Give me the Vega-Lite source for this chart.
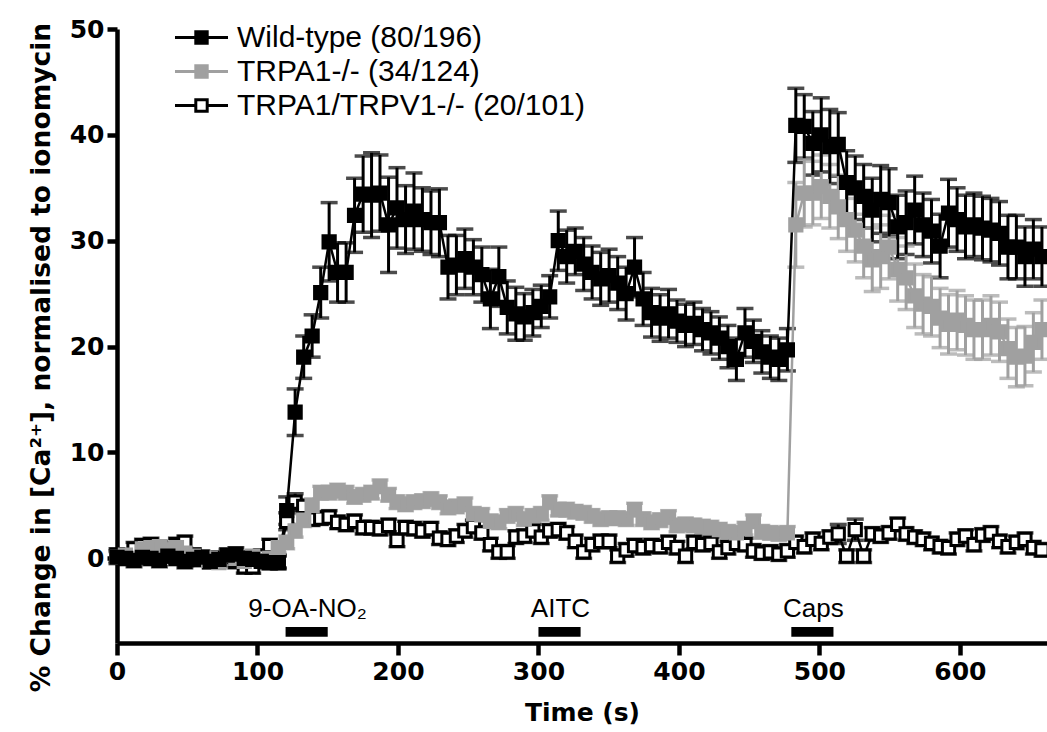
{
"$schema":"https://vega.github.io/schema/vega-lite/v6.json",
"width":930,"height":614,
"autosize":{"type":"none"},
"padding":{"left":117,"top":29,"right":0,"bottom":89},
"background":"white",
"config":{
"view":{"stroke":null},
"font":"Liberation Sans",
"axis":{"grid":false,"labelFlush":false,"domainColor":"black","domainWidth":4.5,"tickColor":"black","tickWidth":4.5,"labelColor":"black","titleColor":"black","labelFont":"DejaVu Sans","labelFontWeight":"bold","labelFontSize":25,"titleFont":"DejaVu Sans","titleFontWeight":"bold","titleFontSize":25},
"axisX":{"tickSize":12,"labelPadding":4,"titlePadding":16},
"axisY":{"tickSize":10,"labelPadding":3,"titlePadding":14,"titleFontSize":26.5,"titleY":328}
},
"layer":[
{
"data":{"values":[
{"s":"c","t":0,"v":0.3,"e":0.6},{"s":"c","t":6,"v":0.1,"e":0.6},{"s":"c","t":12.1,"v":0.9,"e":0.6},{"s":"c","t":18.1,"v":1.2,"e":0.6},{"s":"c","t":24.2,"v":1.3,"e":0.6},{"s":"c","t":30.2,"v":1.0,"e":0.6},{"s":"c","t":36.2,"v":0.6,"e":0.6},{"s":"c","t":42.3,"v":1.3,"e":0.6},{"s":"c","t":48.3,"v":1.5,"e":0.6},{"s":"c","t":54.4,"v":0.3,"e":0.6},
{"s":"c","t":60.4,"v":-0.1,"e":0.6},{"s":"c","t":66.4,"v":-0.3,"e":0.6},{"s":"c","t":72.5,"v":0.0,"e":0.6},{"s":"c","t":78.5,"v":0.2,"e":0.6},{"s":"c","t":84.6,"v":-0.3,"e":0.6},{"s":"c","t":90.6,"v":-0.8,"e":0.6},{"s":"c","t":96.6,"v":-0.8,"e":0.6},{"s":"c","t":102.7,"v":0.2,"e":0.6},{"s":"c","t":108.7,"v":1.2,"e":0.6},{"s":"c","t":114.8,"v":-0.3,"e":0.6},
{"s":"c","t":120.8,"v":3.5,"e":0.8},{"s":"c","t":126.8,"v":5.3,"e":0.8},{"s":"c","t":132.9,"v":4.9,"e":0.6},{"s":"c","t":138.9,"v":3.7,"e":0.6},{"s":"c","t":145,"v":3.8,"e":0.6},{"s":"c","t":151,"v":3.9,"e":0.6},{"s":"c","t":157,"v":3.4,"e":0.6},{"s":"c","t":163.1,"v":3.2,"e":0.6},{"s":"c","t":169.1,"v":3.5,"e":0.6},{"s":"c","t":175.2,"v":2.9,"e":0.6},
{"s":"c","t":181.2,"v":2.9,"e":0.6},{"s":"c","t":187.2,"v":2.8,"e":0.6},{"s":"c","t":193.3,"v":3.1,"e":0.6},{"s":"c","t":199.3,"v":1.7,"e":0.6},{"s":"c","t":205.4,"v":2.9,"e":0.6},{"s":"c","t":211.4,"v":2.8,"e":0.6},{"s":"c","t":217.4,"v":2.6,"e":0.6},{"s":"c","t":223.5,"v":2.8,"e":0.6},{"s":"c","t":229.5,"v":1.9,"e":0.6},{"s":"c","t":235.6,"v":1.8,"e":0.6},
{"s":"c","t":241.6,"v":2.1,"e":0.6},{"s":"c","t":247.6,"v":2.6,"e":0.6},{"s":"c","t":253.7,"v":3.0,"e":0.6},{"s":"c","t":259.7,"v":2.4,"e":0.6},{"s":"c","t":265.8,"v":1.3,"e":0.6},{"s":"c","t":271.8,"v":0.6,"e":0.6},{"s":"c","t":277.8,"v":0.6,"e":0.6},{"s":"c","t":283.9,"v":2.0,"e":0.6},{"s":"c","t":289.9,"v":2.1,"e":0.6},{"s":"c","t":296,"v":2.6,"e":0.6},
{"s":"c","t":302,"v":2.0,"e":0.6},{"s":"c","t":308,"v":2.6,"e":0.6},{"s":"c","t":314.1,"v":2.7,"e":0.6},{"s":"c","t":320.1,"v":2.4,"e":0.6},{"s":"c","t":326.2,"v":1.6,"e":0.6},{"s":"c","t":332.2,"v":0.6,"e":0.6},{"s":"c","t":338.2,"v":1.3,"e":0.6},{"s":"c","t":344.3,"v":1.6,"e":0.6},{"s":"c","t":350.3,"v":1.6,"e":0.6},{"s":"c","t":356.4,"v":0.2,"e":0.6},
{"s":"c","t":362.4,"v":0.8,"e":0.6},{"s":"c","t":368.4,"v":1.2,"e":0.6},{"s":"c","t":374.5,"v":1.0,"e":0.6},{"s":"c","t":380.5,"v":1.2,"e":0.6},{"s":"c","t":386.6,"v":1.1,"e":0.6},{"s":"c","t":392.6,"v":1.5,"e":0.6},{"s":"c","t":398.6,"v":1.0,"e":0.6},{"s":"c","t":404.7,"v":0.2,"e":0.6},{"s":"c","t":410.7,"v":1.5,"e":0.6},{"s":"c","t":416.8,"v":1.3,"e":0.6},
{"s":"c","t":422.8,"v":1.4,"e":0.6},{"s":"c","t":428.8,"v":0.6,"e":0.6},{"s":"c","t":434.9,"v":1.0,"e":0.6},{"s":"c","t":440.9,"v":1.4,"e":0.6},{"s":"c","t":447,"v":1.3,"e":0.6},{"s":"c","t":453,"v":0.7,"e":0.6},{"s":"c","t":459,"v":0.5,"e":0.6},{"s":"c","t":465.1,"v":0.6,"e":0.6},{"s":"c","t":471.1,"v":0.4,"e":0.6},{"s":"c","t":477.2,"v":0.7,"e":0.6},
{"s":"c","t":483.2,"v":1.5,"e":0.6},{"s":"c","t":489.2,"v":1.1,"e":0.6},{"s":"c","t":495.3,"v":1.8,"e":0.6},{"s":"c","t":501.3,"v":1.4,"e":0.6},{"s":"c","t":507.4,"v":2.0,"e":0.6},{"s":"c","t":513.4,"v":2.3,"e":0.9},{"s":"c","t":519.4,"v":0.2,"e":0.6},{"s":"c","t":525.5,"v":2.7,"e":1.0},{"s":"c","t":531.5,"v":0.2,"e":0.6},{"s":"c","t":537.6,"v":2.3,"e":0.6},
{"s":"c","t":543.6,"v":2.1,"e":0.6},{"s":"c","t":549.6,"v":2.4,"e":0.6},{"s":"c","t":555.7,"v":3.2,"e":0.6},{"s":"c","t":561.7,"v":2.3,"e":0.6},{"s":"c","t":567.8,"v":2.0,"e":0.6},{"s":"c","t":573.8,"v":1.8,"e":0.6},{"s":"c","t":579.8,"v":1.4,"e":0.6},{"s":"c","t":585.9,"v":1.1,"e":0.6},{"s":"c","t":591.9,"v":1.0,"e":0.6},{"s":"c","t":598,"v":1.8,"e":0.6},
{"s":"c","t":604,"v":2.1,"e":0.6},{"s":"c","t":610,"v":1.3,"e":0.6},{"s":"c","t":616.1,"v":2.2,"e":0.6},{"s":"c","t":622.1,"v":2.4,"e":0.6},{"s":"c","t":628.2,"v":1.6,"e":0.6},{"s":"c","t":634.2,"v":1.1,"e":0.6},{"s":"c","t":640.2,"v":1.5,"e":0.6},{"s":"c","t":646.3,"v":1.8,"e":0.6},{"s":"c","t":652.3,"v":1.0,"e":0.6},{"s":"c","t":658.4,"v":0.8,"e":0.6},

{"s":"b","t":0,"v":0.1,"e":0.5},{"s":"b","t":6,"v":0.3,"e":0.5},{"s":"b","t":12.1,"v":0.0,"e":0.5},{"s":"b","t":18.1,"v":0.9,"e":0.5},{"s":"b","t":24.2,"v":1.0,"e":0.5},{"s":"b","t":30.2,"v":1.1,"e":0.5},{"s":"b","t":36.2,"v":0.8,"e":0.5},{"s":"b","t":42.3,"v":1.0,"e":0.5},{"s":"b","t":48.3,"v":0.5,"e":0.5},{"s":"b","t":54.4,"v":0.2,"e":0.5},
{"s":"b","t":60.4,"v":-0.2,"e":0.5},{"s":"b","t":66.4,"v":0.0,"e":0.5},{"s":"b","t":72.5,"v":-0.4,"e":0.5},{"s":"b","t":78.5,"v":0.3,"e":0.5},{"s":"b","t":84.6,"v":0.0,"e":0.5},{"s":"b","t":90.6,"v":-0.3,"e":0.5},{"s":"b","t":96.6,"v":0.2,"e":0.5},{"s":"b","t":102.7,"v":-0.2,"e":0.5},{"s":"b","t":108.7,"v":0.0,"e":0.5},{"s":"b","t":114.8,"v":1.0,"e":0.5},
{"s":"b","t":120.8,"v":1.5,"e":0.6},{"s":"b","t":126.8,"v":2.6,"e":0.6},{"s":"b","t":132.9,"v":3.6,"e":0.6},{"s":"b","t":138.9,"v":5.0,"e":0.6},{"s":"b","t":145,"v":6.2,"e":0.6},{"s":"b","t":151,"v":6.2,"e":0.6},{"s":"b","t":157,"v":6.4,"e":0.6},{"s":"b","t":163.1,"v":6.2,"e":0.6},{"s":"b","t":169.1,"v":5.8,"e":0.6},{"s":"b","t":175.2,"v":6.0,"e":0.6},
{"s":"b","t":181.2,"v":6.2,"e":0.6},{"s":"b","t":187.2,"v":6.8,"e":0.6},{"s":"b","t":193.3,"v":6.0,"e":0.6},{"s":"b","t":199.3,"v":5.3,"e":0.6},{"s":"b","t":205.4,"v":5.1,"e":0.6},{"s":"b","t":211.4,"v":5.3,"e":0.6},{"s":"b","t":217.4,"v":5.4,"e":0.6},{"s":"b","t":223.5,"v":5.6,"e":0.6},{"s":"b","t":229.5,"v":5.3,"e":0.6},{"s":"b","t":235.6,"v":4.8,"e":0.6},
{"s":"b","t":241.6,"v":4.9,"e":0.6},{"s":"b","t":247.6,"v":5.1,"e":0.6},{"s":"b","t":253.7,"v":4.2,"e":0.6},{"s":"b","t":259.7,"v":4.1,"e":0.6},{"s":"b","t":265.8,"v":3.5,"e":0.6},{"s":"b","t":271.8,"v":3.4,"e":0.6},{"s":"b","t":277.8,"v":4.0,"e":0.6},{"s":"b","t":283.9,"v":4.2,"e":0.6},{"s":"b","t":289.9,"v":3.7,"e":0.6},{"s":"b","t":296,"v":4.0,"e":0.6},
{"s":"b","t":302,"v":4.2,"e":0.6},{"s":"b","t":308,"v":5.3,"e":0.6},{"s":"b","t":314.1,"v":4.6,"e":0.6},{"s":"b","t":320.1,"v":4.6,"e":0.6},{"s":"b","t":326.2,"v":4.4,"e":0.6},{"s":"b","t":332.2,"v":4.3,"e":0.6},{"s":"b","t":338.2,"v":4.0,"e":0.6},{"s":"b","t":344.3,"v":3.7,"e":0.6},{"s":"b","t":350.3,"v":3.8,"e":0.6},{"s":"b","t":356.4,"v":3.8,"e":0.6},
{"s":"b","t":362.4,"v":3.7,"e":0.6},{"s":"b","t":368.4,"v":4.6,"e":0.6},{"s":"b","t":374.5,"v":3.7,"e":0.6},{"s":"b","t":380.5,"v":3.4,"e":0.6},{"s":"b","t":386.6,"v":3.6,"e":0.6},{"s":"b","t":392.6,"v":3.9,"e":0.6},{"s":"b","t":398.6,"v":3.1,"e":0.6},{"s":"b","t":404.7,"v":3.2,"e":0.6},{"s":"b","t":410.7,"v":3.1,"e":0.6},{"s":"b","t":416.8,"v":3.0,"e":0.6},
{"s":"b","t":422.8,"v":2.9,"e":0.6},{"s":"b","t":428.8,"v":2.7,"e":0.6},{"s":"b","t":434.9,"v":2.5,"e":0.6},{"s":"b","t":440.9,"v":2.4,"e":0.6},{"s":"b","t":447,"v":2.8,"e":0.6},{"s":"b","t":453,"v":3.5,"e":0.6},{"s":"b","t":459,"v":2.5,"e":0.6},{"s":"b","t":465.1,"v":2.4,"e":0.6},{"s":"b","t":471.1,"v":2.3,"e":0.6},{"s":"b","t":477.2,"v":2.4,"e":0.6},
{"s":"b","t":483.2,"v":31.5,"e":4.0},{"s":"b","t":489.2,"v":34.5,"e":3.2},{"s":"b","t":495.3,"v":34.5,"e":3.0},{"s":"b","t":501.3,"v":35.1,"e":3.0},{"s":"b","t":507.4,"v":34.2,"e":3.0},{"s":"b","t":513.4,"v":33.2,"e":3.0},{"s":"b","t":519.4,"v":32.0,"e":3.0},{"s":"b","t":525.5,"v":31.0,"e":3.0},{"s":"b","t":531.5,"v":29.5,"e":3.0},{"s":"b","t":537.6,"v":28.2,"e":3.0},
{"s":"b","t":543.6,"v":28.5,"e":3.0},{"s":"b","t":549.6,"v":29.4,"e":3.0},{"s":"b","t":555.7,"v":27.3,"e":3.0},{"s":"b","t":561.7,"v":26.5,"e":3.0},{"s":"b","t":567.8,"v":24.8,"e":3.0},{"s":"b","t":573.8,"v":24.0,"e":2.8},{"s":"b","t":579.8,"v":23.8,"e":2.8},{"s":"b","t":585.9,"v":22.7,"e":2.8},{"s":"b","t":591.9,"v":22.1,"e":2.8},{"s":"b","t":598,"v":22.5,"e":2.8},
{"s":"b","t":604,"v":22.0,"e":2.8},{"s":"b","t":610,"v":21.6,"e":2.8},{"s":"b","t":616.1,"v":21.6,"e":2.8},{"s":"b","t":622.1,"v":22.0,"e":2.8},{"s":"b","t":628.2,"v":21.4,"e":2.8},{"s":"b","t":634.2,"v":19.8,"e":2.8},{"s":"b","t":640.2,"v":19.0,"e":2.8},{"s":"b","t":646.3,"v":19.1,"e":2.8},{"s":"b","t":652.3,"v":20.4,"e":2.8},{"s":"b","t":658.4,"v":21.6,"e":2.8},

{"s":"a","t":0,"v":0.1,"e":0.6},{"s":"a","t":6,"v":0.0,"e":0.6},{"s":"a","t":12.1,"v":-0.2,"e":0.6},{"s":"a","t":18.1,"v":0.1,"e":0.6},{"s":"a","t":24.2,"v":0.0,"e":0.6},{"s":"a","t":30.2,"v":-0.2,"e":0.6},{"s":"a","t":36.2,"v":0.2,"e":0.6},{"s":"a","t":42.3,"v":0.0,"e":0.6},{"s":"a","t":48.3,"v":-0.3,"e":0.6},{"s":"a","t":54.4,"v":-0.1,"e":0.6},
{"s":"a","t":60.4,"v":0.1,"e":0.6},{"s":"a","t":66.4,"v":-0.3,"e":0.6},{"s":"a","t":72.5,"v":-0.1,"e":0.6},{"s":"a","t":78.5,"v":0.3,"e":0.6},{"s":"a","t":84.6,"v":0.4,"e":0.6},{"s":"a","t":90.6,"v":0.0,"e":0.6},{"s":"a","t":96.6,"v":-0.1,"e":0.6},{"s":"a","t":102.7,"v":-0.3,"e":0.6},{"s":"a","t":108.7,"v":-0.4,"e":0.6},{"s":"a","t":114.8,"v":-0.4,"e":0.6},
{"s":"a","t":120.8,"v":4.5,"e":1.3},{"s":"a","t":126.8,"v":13.8,"e":2.2},{"s":"a","t":132.9,"v":19.0,"e":2.0},{"s":"a","t":138.9,"v":21.0,"e":2.0},{"s":"a","t":145,"v":25.1,"e":2.4},{"s":"a","t":151,"v":29.9,"e":3.7},{"s":"a","t":157,"v":27.0,"e":2.8},{"s":"a","t":163.1,"v":27.0,"e":2.8},{"s":"a","t":169.1,"v":32.4,"e":3.5},{"s":"a","t":175.2,"v":34.4,"e":3.6},
{"s":"a","t":181.2,"v":34.3,"e":4.0},{"s":"a","t":187.2,"v":34.5,"e":3.6},{"s":"a","t":193.3,"v":31.5,"e":4.5},{"s":"a","t":199.3,"v":33.1,"e":3.8},{"s":"a","t":205.4,"v":32.0,"e":3.2},{"s":"a","t":211.4,"v":32.8,"e":3.6},{"s":"a","t":217.4,"v":32.0,"e":3.0},{"s":"a","t":223.5,"v":31.7,"e":3.0},{"s":"a","t":229.5,"v":31.7,"e":3.2},{"s":"a","t":235.6,"v":27.5,"e":3.0},
{"s":"a","t":241.6,"v":27.7,"e":2.8},{"s":"a","t":247.6,"v":28.3,"e":2.8},{"s":"a","t":253.7,"v":27.5,"e":2.6},{"s":"a","t":259.7,"v":26.8,"e":2.6},{"s":"a","t":265.8,"v":24.5,"e":2.8},{"s":"a","t":271.8,"v":26.6,"e":2.8},{"s":"a","t":277.8,"v":23.7,"e":2.5},{"s":"a","t":283.9,"v":23.1,"e":2.5},{"s":"a","t":289.9,"v":22.8,"e":2.2},{"s":"a","t":296,"v":23.2,"e":2.2},
{"s":"a","t":302,"v":23.8,"e":2.0},{"s":"a","t":308,"v":24.7,"e":2.0},{"s":"a","t":314.1,"v":30.0,"e":2.8},{"s":"a","t":320.1,"v":28.5,"e":2.5},{"s":"a","t":326.2,"v":29.0,"e":2.2},{"s":"a","t":332.2,"v":27.8,"e":2.5},{"s":"a","t":338.2,"v":27.0,"e":2.5},{"s":"a","t":344.3,"v":26.4,"e":2.5},{"s":"a","t":350.3,"v":26.7,"e":2.5},{"s":"a","t":356.4,"v":26.0,"e":2.5},
{"s":"a","t":362.4,"v":25.0,"e":2.5},{"s":"a","t":368.4,"v":27.5,"e":2.8},{"s":"a","t":374.5,"v":24.5,"e":2.5},{"s":"a","t":380.5,"v":23.2,"e":2.3},{"s":"a","t":386.6,"v":22.7,"e":2.2},{"s":"a","t":392.6,"v":23.1,"e":2.3},{"s":"a","t":398.6,"v":22.4,"e":2.0},{"s":"a","t":404.7,"v":22.0,"e":2.0},{"s":"a","t":410.7,"v":22.2,"e":2.0},{"s":"a","t":416.8,"v":21.6,"e":2.0},
{"s":"a","t":422.8,"v":21.3,"e":2.0},{"s":"a","t":428.8,"v":20.8,"e":2.0},{"s":"a","t":434.9,"v":20.0,"e":2.0},{"s":"a","t":440.9,"v":18.8,"e":2.0},{"s":"a","t":447,"v":21.3,"e":2.3},{"s":"a","t":453,"v":20.5,"e":2.0},{"s":"a","t":459,"v":19.5,"e":2.0},{"s":"a","t":465.1,"v":19.0,"e":2.0},{"s":"a","t":471.1,"v":18.8,"e":2.0},{"s":"a","t":477.2,"v":19.7,"e":2.0},
{"s":"a","t":483.2,"v":40.9,"e":3.5},{"s":"a","t":489.2,"v":40.8,"e":3.0},{"s":"a","t":495.3,"v":39.2,"e":3.0},{"s":"a","t":501.3,"v":40.0,"e":3.5},{"s":"a","t":507.4,"v":38.9,"e":3.5},{"s":"a","t":513.4,"v":39.1,"e":3.0},{"s":"a","t":519.4,"v":35.5,"e":3.0},{"s":"a","t":525.5,"v":35.0,"e":3.0},{"s":"a","t":531.5,"v":34.2,"e":3.0},{"s":"a","t":537.6,"v":32.9,"e":3.0},
{"s":"a","t":543.6,"v":33.9,"e":3.2},{"s":"a","t":549.6,"v":33.6,"e":3.2},{"s":"a","t":555.7,"v":31.3,"e":3.0},{"s":"a","t":561.7,"v":31.7,"e":3.0},{"s":"a","t":567.8,"v":32.9,"e":3.2},{"s":"a","t":573.8,"v":31.5,"e":3.0},{"s":"a","t":579.8,"v":30.9,"e":3.0},{"s":"a","t":585.9,"v":29.5,"e":3.0},{"s":"a","t":591.9,"v":32.6,"e":3.2},{"s":"a","t":598,"v":32.0,"e":3.0},
{"s":"a","t":604,"v":31.3,"e":3.0},{"s":"a","t":610,"v":31.5,"e":3.0},{"s":"a","t":616.1,"v":31.2,"e":3.0},{"s":"a","t":622.1,"v":31.0,"e":3.0},{"s":"a","t":628.2,"v":30.7,"e":3.0},{"s":"a","t":634.2,"v":29.4,"e":3.0},{"s":"a","t":640.2,"v":29.4,"e":3.0},{"s":"a","t":646.3,"v":28.5,"e":2.8},{"s":"a","t":652.3,"v":29.2,"e":2.8},{"s":"a","t":658.4,"v":28.5,"e":2.8}
]},
"encoding":{
"x":{"field":"t","type":"quantitative","scale":{"domain":[0,662],"nice":false,"zero":false},"axis":{"values":[0,100,200,300,400,500,600],"title":"Time (s)"}},
"y":{"field":"v","type":"quantitative","scale":{"domain":[-8,50],"nice":false,"zero":false},"axis":{"values":[0,10,20,30,40,50],"title":"% Change in [Ca²⁺], normalised to ionomycin"}}
},
"layer":[
{"mark":{"type":"errorbar","ticks":{"size":17,"thickness":3.5},"rule":{"strokeWidth":3}},
 "encoding":{"yError":{"field":"e"},"color":{"field":"s","type":"nominal","scale":{"domain":["c","b","a"],"range":["black","#a0a0a0","black"]},"legend":null}}},
{"mark":{"type":"line","strokeWidth":2.5},
 "encoding":{"color":{"field":"s","type":"nominal","scale":{"domain":["c","b","a"],"range":["black","#a0a0a0","black"]},"legend":null}}},
{"mark":{"type":"point","shape":"square","filled":true,"size":150,"strokeWidth":3,"opacity":1},
 "encoding":{
 "fill":{"field":"s","type":"nominal","scale":{"domain":["a","b","c"],"range":["black","#a0a0a0","white"]},
   "legend":{"title":null,"orient":"none","legendX":68,"legendY":-8,"symbolType":"M-1.767,0H-0.38M0.38,0H1.767M-0.38,-0.38H0.38V0.38H-0.38Z","symbolSize":900,"symbolStrokeWidth":3,"labelFontSize":30,"labelFont":"Liberation Sans","labelColor":"black","labelOffset":19,"labelLimit":0,"rowPadding":2,"padding":0,
   "labelExpr":"datum.label == 'a' ? 'Wild-type (80/196)' : datum.label == 'b' ? 'TRPA1-/- (34/124)' : 'TRPA1/TRPV1-/- (20/101)'"}},
 "stroke":{"field":"s","type":"nominal","scale":{"domain":["a","b","c"],"range":["black","#a0a0a0","black"]},
   "legend":{"title":null,"orient":"none","legendX":68,"legendY":-8,"symbolType":"M-1.767,0H-0.38M0.38,0H1.767M-0.38,-0.38H0.38V0.38H-0.38Z","symbolSize":900,"symbolStrokeWidth":3,"labelFontSize":30,"labelFont":"Liberation Sans","labelColor":"black","labelOffset":19,"labelLimit":0,"rowPadding":2,"padding":0,
   "labelExpr":"datum.label == 'a' ? 'Wild-type (80/196)' : datum.label == 'b' ? 'TRPA1-/- (34/124)' : 'TRPA1/TRPV1-/- (20/101)'"}}
 }}
]
},
{
"data":{"values":[
{"name":"9-OA-NO₂","start":120,"end":150},
{"name":"AITC","start":300,"end":330},
{"name":"Caps","start":480,"end":510}
]},
"layer":[
{"mark":{"type":"rect","color":"black"},
 "encoding":{"x":{"field":"start","type":"quantitative","title":"Time (s)"},"x2":{"field":"end"},"y":{"datum":-6.5,"type":"quantitative","title":"% Change in [Ca²⁺], normalised to ionomycin"},"y2":{"datum":-7.4}}},
{"mark":{"type":"text","font":"Liberation Sans","fontSize":26,"color":"black","align":"center","baseline":"alphabetic","dx":22},
 "encoding":{"x":{"field":"start","type":"quantitative","title":"Time (s)"},"y":{"datum":-5.5,"type":"quantitative","title":"% Change in [Ca²⁺], normalised to ionomycin"},"text":{"field":"name"}}}
]
}
]
}
